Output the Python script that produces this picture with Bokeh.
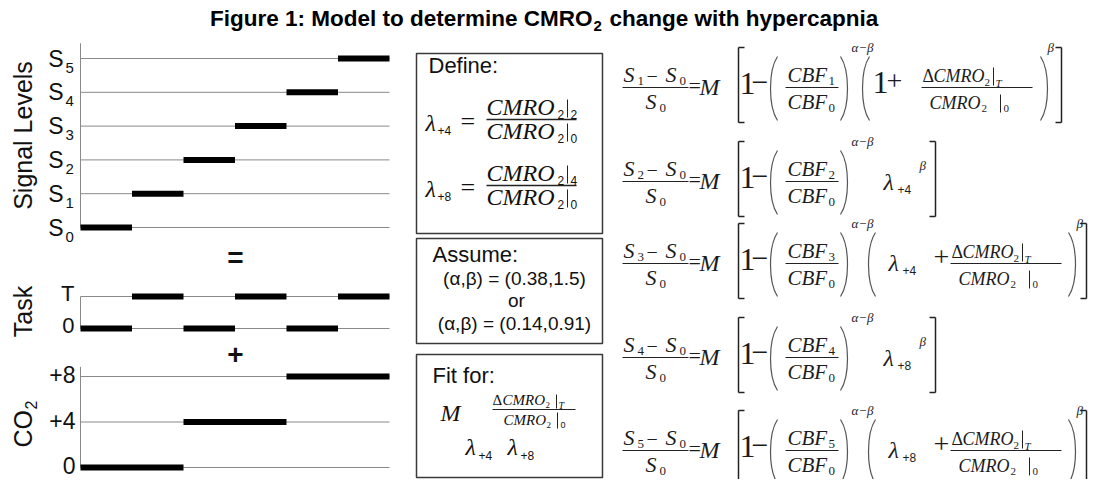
import math
from bokeh.plotting import figure
from bokeh.models import Range1d, ColumnDataSource
from bokeh.embed import file_html
from bokeh.resources import INLINE
from bokeh.core.properties import value

# ---------------- data ----------------
blocks = [0, 1, 2, 3, 4, 5]
signal_levels = [0, 1, 2, 3, 4, 5]
signal_ticks = [0, 1, 2, 3, 4, 5]
signal_tick_subs = ["0", "1", "2", "3", "4", "5"]
task_levels = [0, 1, 0, 1, 0, 1]
task_ticks = [0, 1]
task_tick_labels = ["0", "T"]
co2_levels = [0, 0, 4, 4, 8, 8]
co2_ticks = [0, 4, 8]
co2_tick_labels = ["0", "+4", "+8"]

define_lambdas = ["+4", "+8"]
define_states = ["2", "4"]
assume_alpha = ["0.38", "0.14"]
assume_beta = ["1.5", "0.91"]
fit_lambdas = ["+4", "+8"]
eq_index = ["1", "2", "3", "4", "5"]
eq_lambda = [None, "+4", "+4", "+8", "+8"]
eq_task = [True, False, True, False, True]

# ---------------- figure ----------------
X0, X1 = 0, 1088
Y0, Y1 = 479, 0
p = figure(width=1088, height=479, x_range=Range1d(X0, X1), y_range=Range1d(Y0, Y1),
           output_backend="svg", toolbar_location=None, min_border=0,
           x_axis_location=None, y_axis_location=None)
p.xgrid.visible = False
p.ygrid.visible = False
p.outline_line_color = None
p.background_fill_color = "white"
p.border_fill_color = "white"


def mapped_range(v0, p0, v1, p1, s, e):
    k = (p1 - p0) / (v1 - v0)
    return Range1d(start=v0 + (s - p0) / k, end=v0 + (e - p0) / k)


nb = len(blocks)
p.extra_x_ranges = {"blk": mapped_range(0, 80, nb, 389, X0, X1)}
p.extra_y_ranges = {
    "sig": mapped_range(0, 227, 5, 58, Y0, Y1),
    "task": mapped_range(0, 328, 1, 296, Y0, Y1),
    "co2": mapped_range(0, 467, 8, 376, Y0, Y1),
}

SANS = "Liberation Sans"
SERIF = "Liberation Serif"
INK = "#111111"
EQ = "#1c1c1c"
MID = 0.35  # distance (in em) from baseline to the middle of the em box

# ---------------- left panels ----------------
panels = [("sig", signal_ticks, signal_levels, 5.45),
          ("task", task_ticks, task_levels, 1.0),
          ("co2", co2_ticks, co2_levels, 8.85)]
for name, ticks, levels, top in panels:
    p.segment(x0=[0] * len(ticks), x1=[nb] * len(ticks), y0=ticks, y1=ticks,
              x_range_name="blk", y_range_name=name, line_color="#8a8a8a", line_width=1)
    p.segment(x0=[0], x1=[0], y0=[min(ticks)], y1=[top],
              x_range_name="blk", y_range_name=name, line_color="#8a8a8a", line_width=1)
    p.segment(x0=blocks, x1=[b + 1 for b in blocks], y0=levels, y1=levels,
              x_range_name="blk", y_range_name=name, line_color="black",
              line_width=6, line_cap="butt")

p.text(x=[0] * len(signal_ticks), y=signal_ticks, text=["S"] * len(signal_ticks),
       x_range_name="blk", y_range_name="sig", x_offset=-17, y_offset=0,
       text_align="right", text_baseline="middle", text_font=value(SANS),
       text_font_size="23px", text_color=INK)
p.text(x=[0] * len(signal_ticks), y=signal_ticks, text=signal_tick_subs,
       x_range_name="blk", y_range_name="sig", x_offset=-15, y_offset=9,
       text_align="left", text_baseline="middle", text_font=value(SANS),
       text_font_size="15px", text_color=INK)
p.text(x=[0] * len(task_ticks), y=task_ticks, text=task_tick_labels,
       x_range_name="blk", y_range_name="task", x_offset=-6, y_offset=-3,
       text_align="right", text_baseline="middle", text_font=value(SANS),
       text_font_size="22px", text_color=INK)
p.text(x=[0] * len(co2_ticks), y=co2_ticks, text=co2_tick_labels,
       x_range_name="blk", y_range_name="co2", x_offset=-5, y_offset=-2,
       text_align="right", text_baseline="middle", text_font=value(SANS),
       text_font_size="23px", text_color=INK)

# ---------------- text / line helpers ----------------
runs = dict(x=[], y=[], text=[], font=[], size=[], style=[], align=[], color=[], angle=[])


def T(x, y, s, size, font=SANS, style="normal", align="left", color=INK, angle=0.0, base=True):
    """x, y: position of the baseline (base=True) or of the text middle (base=False)."""
    if base:
        if angle:
            x = x - MID * size
        else:
            y = y - MID * size
    runs["x"].append(x); runs["y"].append(y); runs["text"].append(s)
    runs["font"].append(font); runs["size"].append(f"{size}px"); runs["style"].append(style)
    runs["align"].append(align); runs["color"].append(color); runs["angle"].append(angle)


segs = dict(x0=[], y0=[], x1=[], y1=[], w=[], c=[])


def S(x0, y0, x1, y1, w=1.2, c="#222222"):
    segs["x0"].append(x0); segs["y0"].append(y0); segs["x1"].append(x1); segs["y1"].append(y1)
    segs["w"].append(w); segs["c"].append(c)


bez = dict(x0=[], y0=[], x1=[], y1=[], cx0=[], cy0=[], cx1=[], cy1=[])


def paren(x_end, x_peak, y_top, y_bot):
    cx = x_end + (x_peak - x_end) / 0.75
    h = y_bot - y_top
    bez["x0"].append(x_end); bez["y0"].append(y_top)
    bez["x1"].append(x_end); bez["y1"].append(y_bot)
    bez["cx0"].append(cx); bez["cy0"].append(y_top + 0.22 * h)
    bez["cx1"].append(cx); bez["cy1"].append(y_bot - 0.22 * h)


def bracket(x, y_top, y_bot, side):
    S(x, y_top, x, y_bot, 1.5)
    S(x, y_top, x + 6 * side, y_top, 1.5)
    S(x, y_bot, x + 6 * side, y_bot, 1.5)


# ---------------- title & left labels ----------------
T(592, 26, "Figure 1: Model to determine CMRO", 22.5, style="bold", align="right", color="black")
T(593, 31, "2", 15, style="bold", color="black")
T(609, 26, "change with hypercapnia", 22.5, style="bold", color="black")

T(31, 135, "Signal Levels", 25, align="center", angle=math.pi / 2)
T(31, 311, "Task", 25, align="center", angle=math.pi / 2)
T(31, 447, "CO", 25, align="left", angle=math.pi / 2)
T(36, 409, "2", 16, align="left", angle=math.pi / 2)
T(235, 257, "=", 28, style="bold", align="center", base=False)
T(235, 354, "+", 28, style="bold", align="center", base=False)

# ---------------- boxes ----------------
box_left = [416, 416, 416]
box_right = [602, 602, 602]
box_top = [53, 238, 354]
box_bottom = [233, 343, 477]
p.quad(left=box_left, right=box_right, top=box_top, bottom=box_bottom,
       fill_color=None, line_color="#3a3a3a", line_width=1.5)

# Define box
T(428, 73, "Define:", 22)
for r in range(2):
    d = 66 * r
    T(425, 131 + d, "λ", 24, SERIF, "italic")
    T(437, 134 + d, define_lambdas[r], 12)
    T(460, 130 + d, "=", 26, SERIF)
    T(486, 115 + d, "CMRO", 24, SERIF, "italic")
    T(557, 118 + d, "2", 12)
    S(567, 99 + d, 567, 117 + d, 1.0)
    T(570, 118 + d, define_states[r], 12)
    S(486, 119 + d, 576, 119 + d, 1.3)
    T(486, 139 + d, "CMRO", 24, SERIF, "italic")
    T(557, 142 + d, "2", 12)
    S(567, 123 + d, 567, 141 + d, 1.0)
    T(570, 142 + d, "0", 12)

# Assume box
T(432, 262, "Assume:", 22)
T(514, 285, f"(α,β) = ({assume_alpha[0]},{assume_beta[0]})", 19, align="center")
T(516, 307, "or", 19, align="center")
T(514, 330, f"(α,β) = ({assume_alpha[1]},{assume_beta[1]})", 19, align="center")

# Fit box
T(432, 383, "Fit for:", 22)
T(440, 421, "M", 24, SERIF, "italic")
T(492, 405, "Δ", 15, SERIF)
T(502, 405, "CMRO", 15, SERIF, "italic")
T(545, 408, "2", 9, SERIF)
S(556, 394, 556, 408, 1.0)
T(558, 408, "T", 10, SERIF, "italic")
S(492, 409, 575, 409, 1.0)
T(503, 425, "CMRO", 15, SERIF, "italic")
T(546, 428, "2", 9, SERIF)
S(557, 412, 557, 428, 1.0)
T(560, 428, "0", 9)
T(465, 455, "λ", 24, SERIF, "italic")
T(478, 459, fit_lambdas[0], 12)
T(507, 455, "λ", 24, SERIF, "italic")
T(520, 459, fit_lambdas[1], 12)


# ---------------- equations ----------------
def frac_cmro(fx, yb):
    T(fx + 1, yb - 5, "Δ", 18, SERIF, color=EQ)
    T(fx + 12, yb - 5, "CMRO", 18, SERIF, "italic", color=EQ)
    T(fx + 63, yb - 1, "2", 11, SERIF, color=EQ)
    S(fx + 72, yb - 20, fx + 72, yb - 2, 1.0)
    T(fx + 74, yb - 1, "T", 11, SERIF, "italic", color=EQ)
    S(fx, yb, fx + 111, yb)
    T(fx + 8, yb + 22, "CMRO", 18, SERIF, "italic", color=EQ)
    T(fx + 60, yb + 25, "2", 11, SERIF, color=EQ)
    S(fx + 79, yb + 7, fx + 79, yb + 25, 1.0)
    T(fx + 82, yb + 25, "0", 11, SERIF, color=EQ)


eq_yb = [87, 181, 263, 357, 450]
for k in range(len(eq_index)):
    yb = eq_yb[k]
    idx = eq_index[k]
    T(623, yb - 5, "S", 22, SERIF, "italic", color=EQ)
    T(637, yb - 2, idx, 13, SERIF, color=EQ)
    T(646, yb - 5, "−", 20, SERIF, color=EQ)
    T(665, yb - 5, "S", 22, SERIF, "italic", color=EQ)
    T(679, yb - 2, "0", 13, SERIF, color=EQ)
    S(622, yb, 688, yb)
    T(645, yb + 22, "S", 22, SERIF, "italic", color=EQ)
    T(659, yb + 25, "0", 13, SERIF, color=EQ)
    T(688, yb + 6, "=", 22, SERIF, color=EQ)
    T(699, yb + 8, "M", 24, SERIF, "italic", color=EQ)
    bracket(738, yb - 40, yb + 35, +1)
    T(739, yb + 7, "1", 32, SERIF, color=EQ)
    T(751, yb + 5, "−", 30, SERIF, color=EQ)
    paren(777, 770, yb - 31, yb + 33)
    T(787, yb - 5, "CBF", 21, SERIF, "italic", color=EQ)
    T(828, yb - 2, idx, 13, SERIF, color=EQ)
    S(785, yb, 838, yb)
    T(787, yb + 22, "CBF", 21, SERIF, "italic", color=EQ)
    T(828, yb + 25, "0", 13, SERIF, color=EQ)
    paren(840, 847, yb - 31, yb + 33)
    T(851, yb - 35, "α−β", 13, SERIF, "italic", color=EQ)
    lam = eq_lambda[k]
    if not eq_task[k]:
        T(883, yb + 9, "λ", 24, SERIF, "italic", color=EQ)
        T(897, yb + 12, lam, 12, color=EQ)
        T(919, yb - 11, "β", 13, SERIF, "italic", color=EQ)
        bracket(935, yb - 40, yb + 35, -1)
    else:
        if lam is None:
            paren(869, 862, yb - 31, yb + 33)
            T(872, yb + 6, "1", 32, SERIF, color=EQ)
            T(886, yb + 3, "+", 28, SERIF, color=EQ)
            fx, rp, bx, br = 921, 1040, 1047, 1061
        else:
            paren(875, 868, yb - 31, yb + 33)
            T(888, yb + 8, "λ", 24, SERIF, "italic", color=EQ)
            T(902, yb + 11, lam, 12, color=EQ)
            T(933, yb + 3, "+", 28, SERIF, color=EQ)
            fx, rp, bx, br = 950, 1068, 1076, 1086
        frac_cmro(fx, yb)
        paren(rp, rp + 7, yb - 31, yb + 33)
        T(bx, yb - 35, "β", 13, SERIF, "italic", color=EQ)
        bracket(br, yb - 40, yb + 35, -1)

# ---------------- render helpers ----------------
p.segment(x0="x0", y0="y0", x1="x1", y1="y1", line_width="w", line_color="c",
          source=ColumnDataSource(segs))
p.bezier(x0="x0", y0="y0", x1="x1", y1="y1", cx0="cx0", cy0="cy0", cx1="cx1", cy1="cy1",
         line_color="#555555", line_width=1.2, source=ColumnDataSource(bez))
p.text(x="x", y="y", text="text", text_font="font", text_font_size="size",
       text_font_style="style", text_align="align", text_baseline="middle",
       text_color="color", angle="angle", source=ColumnDataSource(runs))

open("out.html", "w").write(file_html(p, INLINE))
